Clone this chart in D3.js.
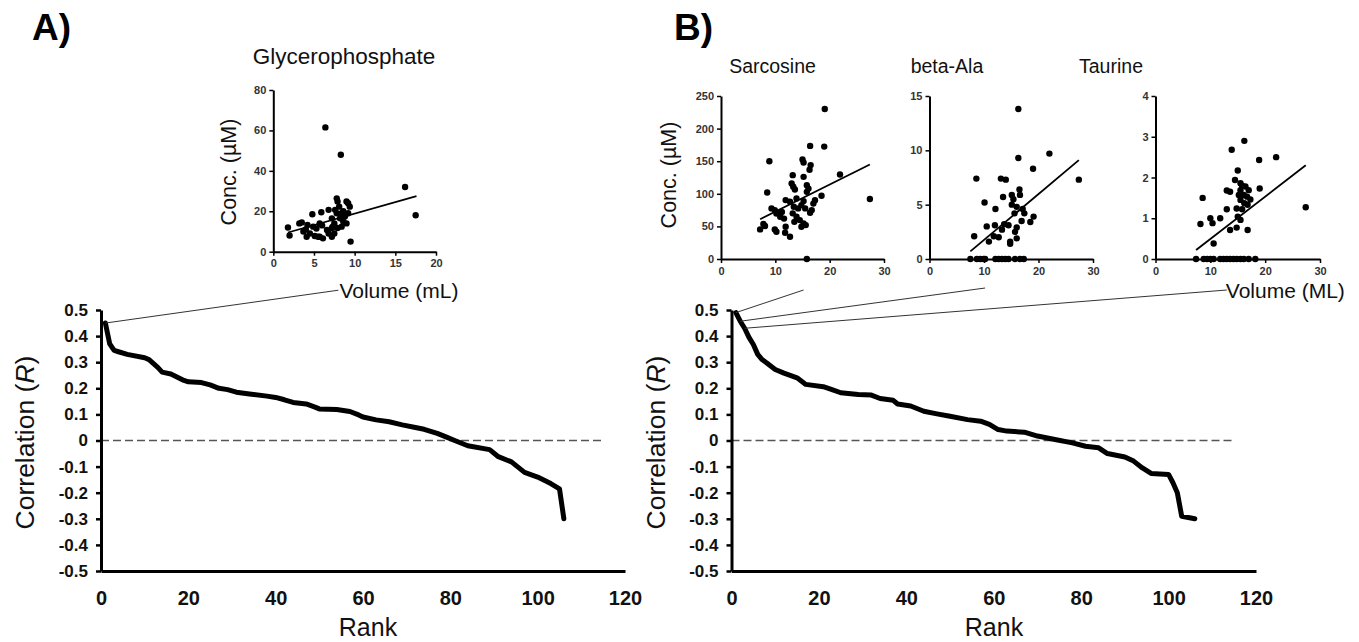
<!DOCTYPE html>
<html>
<head>
<meta charset="utf-8">
<script src="https://cdn.jsdelivr.net/npm/d3@7"></script>
<style>
  html, body { margin: 0; padding: 0; background: #fff; }
  svg { display: block; font-family: "Liberation Sans", Arial, sans-serif; }
</style>
</head>
<body>
<svg id="chart" width="1359" height="642"></svg>
<script>
// ---------------- DATA ----------------
// Main ranked-correlation curves (rank, R)
const rankA = [1,2,3,4,6,10,11,13,14,16,19,20,23,25,27,29,31,34,38,40,42,44,47,49,50,54,57,59,60,63,66,69,72,74,77,79,81,84,89,91,94,97,100,103,105,106];
const corrA = [0.45,0.37,0.345,0.34,0.33,0.317,0.31,0.28,0.262,0.255,0.23,0.225,0.222,0.213,0.2,0.195,0.185,0.178,0.17,0.165,0.156,0.146,0.14,0.128,0.121,0.119,0.111,0.098,0.09,0.079,0.072,0.06,0.05,0.043,0.027,0.014,0,-0.02,-0.035,-0.062,-0.082,-0.122,-0.14,-0.165,-0.185,-0.30];

const rankB = [1,2,3,4,5,6,7,8,10,12,15,17,21,23,25,29,32,34,37,38,41,44,47,50,54,57,59,61,63,67,70,74,78,81,84,86,90,92,94,96,100,101,102,103,106];
const corrB = [0.49,0.457,0.43,0.395,0.368,0.33,0.31,0.298,0.272,0.258,0.24,0.215,0.206,0.195,0.183,0.176,0.174,0.161,0.154,0.14,0.132,0.112,0.102,0.093,0.08,0.074,0.062,0.042,0.036,0.032,0.017,0.004,-0.009,-0.022,-0.028,-0.05,-0.063,-0.079,-0.105,-0.126,-0.13,-0.162,-0.2,-0.29,-0.30];

const mainYTicks = [-0.5,-0.4,-0.3,-0.2,-0.1,0,0.1,0.2,0.3,0.4,0.5];
const mainYTickLabels = ["-0.5","-0.4","-0.3","-0.2","-0.1","0","0.1","0.2","0.3","0.4","0.5"];
const mainXTicks = [0,20,40,60,80,100,120];
const mainXTickLabels = ["0","20","40","60","80","100","120"];

// Inset scatter data: volume (mL) vs concentration (µM)
const glycVol  = [6.4,8.3,16.2,17.5,9.5,1.8,2.0,3.5,4.0,4.5,4.9,4.8,5.1,5.9,5.7,5.5,6.8,6.8,7.2,7.3,7.6,7.8,7.9,8.1,8.2,8.4,8.6,9.0,9.0,9.2,9.4,9.2,7.5,7.2,6.6,3.7,4.1,6.1,5.7,7.5,7.8,8.4,8.6,8.8,7.9,7.2,6.0,5.3,4.2,3.2];
const glycConc = [61.5,48,32,18,5,12,8,14.5,11,9,12.4,18.5,7.8,19.5,14,7.4,9,20.7,16.5,12.4,20.7,26.4,24.8,22.3,16.5,12.4,14.9,14,24.8,24,22.3,19,9,7.4,10.7,10,7.4,6.6,7.4,14,19,19,20,17.4,11.7,11.7,13,11.5,13.2,14];
const glycFit  = [1.8, 9.5, 17.6, 27.5];

const sarcVol  = [19.1,16.4,19.0,8.9,15.0,15.2,16.5,16.3,13.2,15.2,21.9,13.0,13.3,13.6,15.8,16.1,15.8,8.5,18.5,27.4,11.9,12.7,13.9,15.2,9.3,9.9,10.2,10.9,13.4,14.2,14.8,15.5,17.0,17.3,16.7,16.4,13.2,13.9,13.5,14.5,15.2,14.8,15.6,7.8,7.2,8.1,9.9,10.2,11.9,11.8,12.7,15.8,11.6,11.2];
const sarcConc = [230,173.5,172.4,150,152.6,148,144,137,128.6,126,129.6,115.8,110.7,106.6,113,108,103,102,97,92,90.3,87.8,92.9,88.8,77.6,75,69.9,64.8,80.1,77.6,82.7,77.6,85,90,75,71,70,64.8,57,59.7,54.6,49.5,52,53.6,45.4,50.5,45.4,41.8,49.5,40.3,34.2,0,62,72];
const sarcFit  = [7.2, 61, 27.4, 145];

const alaVol  = [16.3,16.3,22.0,19.0,8.6,13.1,14.0,16.5,16.6,15.1,15.4,13.5,10.1,12.1,15.1,16.0,15.6,17.1,17.4,19.1,18.5,16.9,12.0,13.7,14.5,13.3,16.0,10.5,8.2,11.8,12.7,16.0,10.9,14.8,14.8,15.7,27.4,7.5,8.7,9.3,9.9,10.2,12.1,12.7,13.3,13.9,14.5,15.7,16.6,17.3];
const alaConc = [13.8,9.3,9.7,8.3,7.4,7.4,7.3,6.4,5.9,5.9,5.5,5.7,5.2,4.6,5.0,4.8,4.2,4.6,4.2,3.9,3.4,3.5,3.1,3.2,3.1,2.7,2.9,3.0,2.1,2.1,2.0,1.9,1.6,1.6,1.4,2.5,7.3,0,0,0,0,0,0,0,0,0,0,0,0,0];
const alaFit  = [7.5, 0.7, 27.4, 9.1];

const taurVol  = [16.2,13.9,18.9,15.0,22.0,27.4,14.5,15.5,15.8,16.4,15.5,13.0,13.6,17.0,19.0,15.2,16.1,16.7,15.5,17.3,16.2,16.8,8.6,14.8,13.0,15.8,10.0,11.8,15.0,15.5,8.2,10.4,14.8,13.6,16.8,10.6,7.4,8.8,9.4,10.0,10.6,11.8,12.4,13.0,13.6,14.2,14.8,15.5,16.1,17.0,18.2];
const taurConc = [2.9,2.68,2.43,2.17,2.5,1.27,1.94,1.86,1.8,1.78,1.69,1.68,1.65,1.69,1.73,1.57,1.57,1.53,1.45,1.46,1.37,1.33,1.5,1.24,1.22,1.22,1.0,1.0,1.04,0.96,0.86,0.88,0.77,0.71,0.71,0.38,0,0,0,0,0,0,0,0,0,0,0,0,0,0,0];
const taurFit  = [7.4, 0.22, 27.4, 2.3];

// Tick values for insets
const glycYTicks = [0,20,40,60,80];
const glycXTicks = [0,5,10,15,20];
const sarcYTicks = [0,50,100,150,200,250];
const alaYTicks  = [0,5,10,15];
const taurYTicks = [0,1,2,3,4];
const volXTicks  = [0,10,20,30];

// Text
const insetTitles = ["Glycerophosphate","Sarcosine","beta-Ala","Taurine"];
const panelLabels = ["A)","B)"];

// ---------------- DRAW ----------------
const svg = d3.select("#chart");
const FONT = '"Liberation Sans", Arial, sans-serif';

const yMain = d3.scaleLinear().domain([-0.5,0.5]).range([571,310]);
const xMainA = d3.scaleLinear().domain([0,120]).range([101,625]);
const xMainB = d3.scaleLinear().domain([0,120]).range([731.5,1256]);

function mainPanel(xs, ranks, corrs, titleX, rankX) {
  const g = svg.append("g");
  // dashed zero line
  g.append("line")
    .attr("x1", xs(0)).attr("x2", xs(115))
    .attr("y1", yMain(0)).attr("y2", yMain(0))
    .attr("stroke", "#555").attr("stroke-width", 1.3)
    .attr("stroke-dasharray", "8,4");
  // y axis
  const ya = g.append("g").attr("transform", `translate(${xs(0)},0)`)
    .call(d3.axisLeft(yMain).tickValues(mainYTicks)
      .tickFormat((d,i) => mainYTickLabels[i]).tickSize(5).tickSizeOuter(0).tickPadding(8));
  ya.select(".domain").attr("stroke", "#000").attr("stroke-width", 3);
  ya.selectAll(".tick line").attr("stroke", "#000").attr("stroke-width", 2.5);
  ya.selectAll(".tick text").attr("font-family", FONT).attr("font-size", 17)
    .attr("font-weight", "bold").attr("fill", "#111");
  // x axis
  const xa = g.append("g").attr("transform", `translate(0,${yMain(-0.5)})`)
    .call(d3.axisBottom(xs).tickValues(mainXTicks)
      .tickFormat((d,i) => mainXTickLabels[i]).tickSize(0).tickSizeOuter(0).tickPadding(20));
  xa.select(".domain").attr("stroke", "#000").attr("stroke-width", 3);
  xa.selectAll(".tick text").attr("font-family", FONT).attr("font-size", 20)
    .attr("font-weight", "bold").attr("fill", "#111");
  // curve
  const pts = ranks.map((r,i) => [r, corrs[i]]);
  g.append("path")
    .attr("d", d3.line().x(d => xs(d[0])).y(d => yMain(d[1]))(pts))
    .attr("fill", "none").attr("stroke", "#000").attr("stroke-width", 5)
    .attr("stroke-linejoin", "round").attr("stroke-linecap", "round");
  // axis titles
  const t = g.append("text")
    .attr("transform", `translate(${titleX},${(yMain(0.5)+yMain(-0.5))/2 + 2}) rotate(-90)`)
    .attr("text-anchor", "middle").attr("font-family", FONT).attr("font-size", 26.5).attr("fill", "#111");
  t.append("tspan").text("Correlation (");
  t.append("tspan").attr("font-style", "italic").text("R");
  t.append("tspan").text(")");
  g.append("text").attr("x", rankX).attr("y", 636).attr("text-anchor", "middle")
    .attr("font-family", FONT).attr("font-size", 25).attr("fill", "#111").text("Rank");
  return g;
}

mainPanel(xMainA, rankA, corrA, 34, 368);
mainPanel(xMainB, rankB, corrB, 665, 994);

// Insets
function inset(cfg) {
  const x = d3.scaleLinear().domain(cfg.xd).range(cfg.xr);
  const y = d3.scaleLinear().domain(cfg.yd).range(cfg.yr);
  const g = svg.append("g");
  const ya = g.append("g").attr("transform", `translate(${cfg.xr[0]},0)`)
    .call(d3.axisLeft(y).tickValues(cfg.yt).tickFormat(d3.format("d"))
      .tickSize(4).tickSizeOuter(0).tickPadding(3));
  const xa = g.append("g").attr("transform", `translate(0,${cfg.yr[0]})`)
    .call(d3.axisBottom(x).tickValues(cfg.xt).tickFormat(d3.format("d"))
      .tickSize(4).tickSizeOuter(0).tickPadding(4));
  [ya, xa].forEach(a => {
    a.select(".domain").attr("stroke", "#000").attr("stroke-width", 2);
    a.selectAll(".tick line").attr("stroke", "#000").attr("stroke-width", 1.5);
    a.selectAll(".tick text").attr("font-family", FONT).attr("font-size", 11)
      .attr("font-weight", "bold").attr("fill", "#333");
  });
  // fit line
  g.append("line")
    .attr("x1", x(cfg.fit[0])).attr("y1", y(cfg.fit[1]))
    .attr("x2", x(cfg.fit[2])).attr("y2", y(cfg.fit[3]))
    .attr("stroke", "#000").attr("stroke-width", 1.8);
  // points
  g.selectAll("circle.pt").data(cfg.xs.map((v,i) => [v, cfg.ys[i]]))
    .enter().append("circle").attr("class", "pt")
    .attr("cx", d => x(d[0])).attr("cy", d => y(d[1])).attr("r", 3.2)
    .attr("fill", "#000");
  // title
  g.append("text").attr("x", cfg.titleX).attr("y", cfg.titleY).attr("text-anchor", "middle")
    .attr("font-family", FONT).attr("font-size", cfg.titleSize).attr("fill", "#111").text(cfg.title);
  if (cfg.ylab) {
    g.append("text")
      .attr("transform", `translate(${cfg.ylab[0]},${cfg.ylab[1]}) rotate(-90)`)
      .attr("text-anchor", "middle").attr("font-family", FONT).attr("font-size", 21.5)
      .attr("fill", "#111").text("Conc. (\u00B5M)");
  }
  return {x, y};
}

const insG = inset({xd:[0,20], xr:[273.3,436], yd:[0,80], yr:[251.7,90],
  yt:glycYTicks, xt:glycXTicks, xs:glycVol, ys:glycConc, fit:glycFit,
  title:insetTitles[0], titleX:344, titleY:64, titleSize:22.5, ylab:[236,172]});
const insS = inset({xd:[0,30], xr:[721,884], yd:[0,250], yr:[259,96],
  yt:sarcYTicks, xt:volXTicks, xs:sarcVol, ys:sarcConc, fit:sarcFit,
  title:insetTitles[1], titleX:772.5, titleY:72.5, titleSize:19.5, ylab:[675.5,175]});
const insB = inset({xd:[0,30], xr:[929.5,1093], yd:[0,15], yr:[259,96],
  yt:alaYTicks, xt:volXTicks, xs:alaVol, ys:alaConc, fit:alaFit,
  title:insetTitles[2], titleX:947, titleY:72.5, titleSize:19.5});
const insT = inset({xd:[0,30], xr:[1155.5,1320], yd:[0,4], yr:[259,96],
  yt:taurYTicks, xt:volXTicks, xs:taurVol, ys:taurConc, fit:taurFit,
  title:insetTitles[3], titleX:1111, titleY:72.5, titleSize:19.5});

// Connector lines from curve points to insets
const connectors = [
  {xs:xMainA, rank:rankA[0], r:corrA[0], ins:insG, atX:8.0, yOff:38.5},
  {xs:xMainB, rank:rankB[0], r:corrB[0], ins:insS, atX:15.2, yOff:31},
  {xs:xMainB, rank:rankB[1], r:corrB[1], ins:insB, atX:10.2, yOff:29},
  {xs:xMainB, rank:rankB[2], r:corrB[2], ins:insT, atX:13.0, yOff:31}
];
connectors.forEach(c => {
  svg.append("line")
    .attr("x1", c.xs(c.rank)).attr("y1", yMain(c.r))
    .attr("x2", c.ins.x(c.atX)).attr("y2", c.ins.y(0) + c.yOff)
    .attr("stroke", "#333").attr("stroke-width", 1);
});

// Volume labels
svg.append("text").attr("x", insG.x(8.0) + 1).attr("y", 298)
  .attr("font-family", FONT).attr("font-size", 21).attr("fill", "#111").text("Volume (mL)");
svg.append("text").attr("x", insT.x(13.0) - 1).attr("y", 298)
  .attr("font-family", FONT).attr("font-size", 21).attr("fill", "#111").text("Volume (ML)");

// Panel labels
svg.append("text").attr("x", 32).attr("y", 39.5).attr("font-family", FONT)
  .attr("font-size", 37).attr("font-weight", "bold").attr("fill", "#000").text(panelLabels[0]);
svg.append("text").attr("x", 674).attr("y", 39.5).attr("font-family", FONT)
  .attr("font-size", 37).attr("font-weight", "bold").attr("fill", "#000").text(panelLabels[1]);
</script>
</body>
</html>
